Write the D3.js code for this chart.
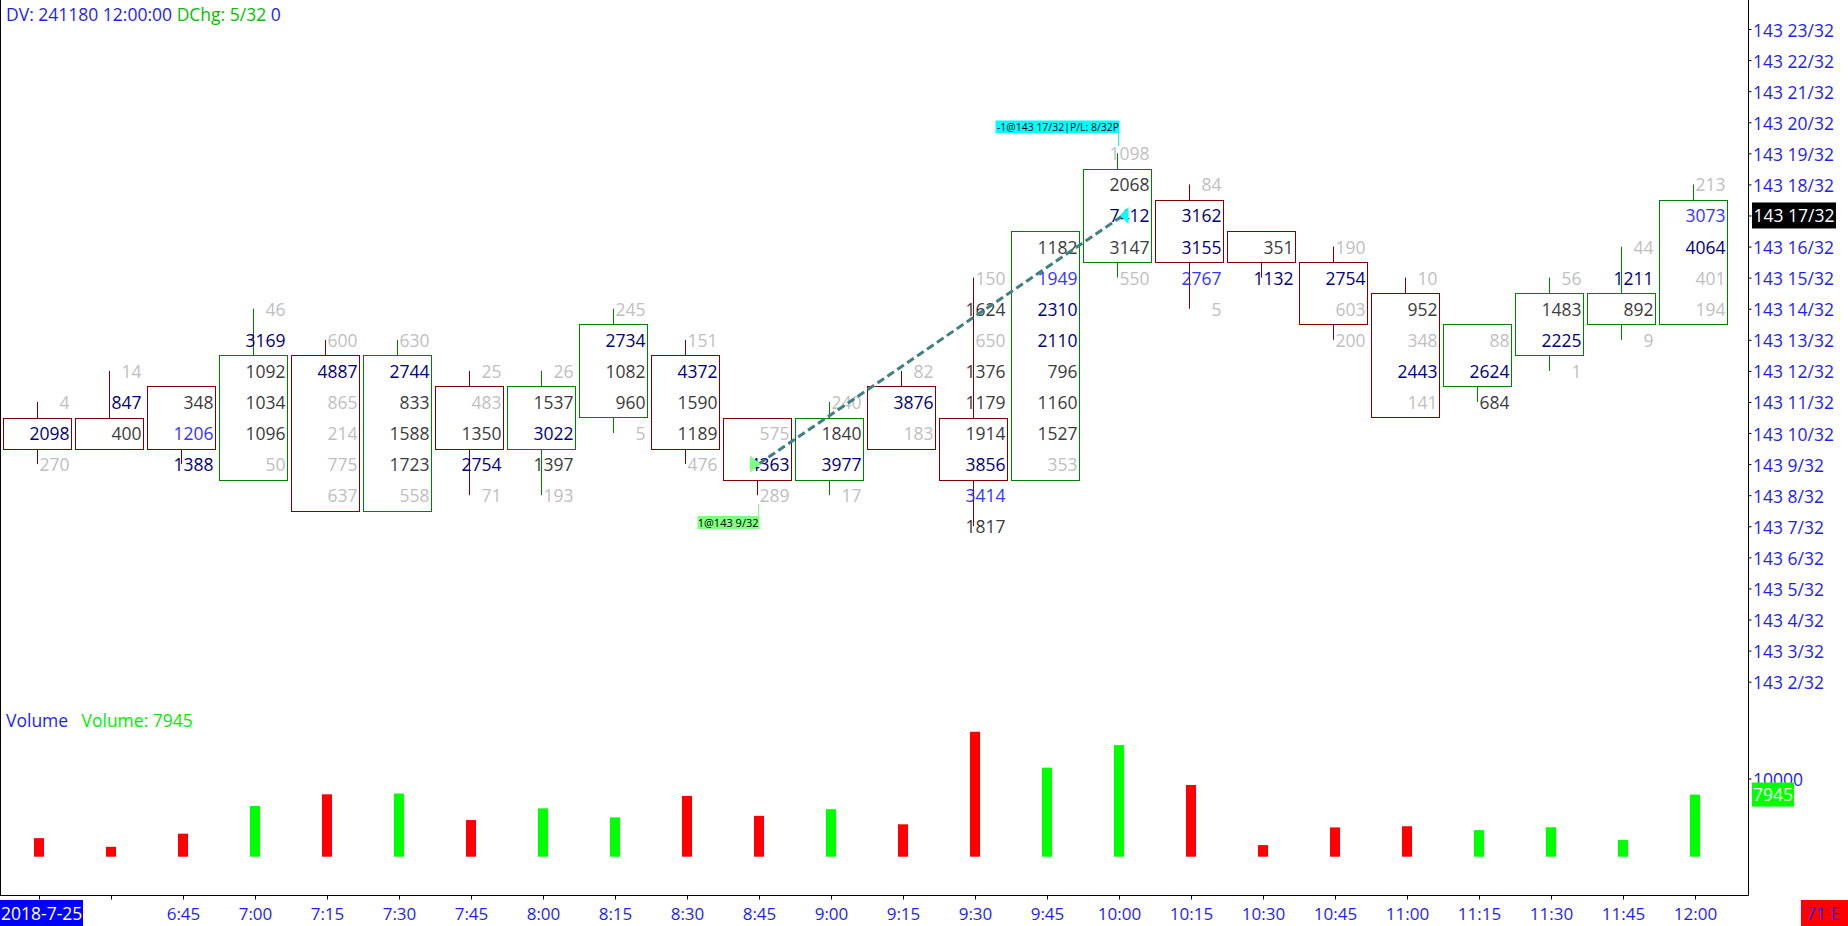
<!DOCTYPE html>
<html><head><meta charset="utf-8">
<script src="https://cdn.jsdelivr.net/npm/d3@7"></script>
<style>
html,body{margin:0;padding:0;background:#fff;overflow:hidden;}
svg{display:block;font-family:"Open Sans","Noto Sans",sans-serif;}
</style></head><body>
<svg id="c" width="1848" height="926"></svg>
<script>
// ---- data (prices in 32nds above 143) ----
const times = ["6:15","6:30","6:45","7:00","7:15","7:30","7:45","8:00","8:15","8:30","8:45","9:00",
               "9:15","9:30","9:45","10:00","10:15","10:30","10:45","11:00","11:15","11:30","11:45","12:00"];
const tickLabels = ["2018-7-25","","6:45","7:00","7:15","7:30","7:45","8:00","8:15","8:30","8:45","9:00",
               "9:15","9:30","9:45","10:00","10:15","10:30","10:45","11:00","11:15","11:30","11:45","12:00"];
const highs       = [11,12,11,14,13,13,12,12,14,13,10,11,12,15,16,19,18,16,16,15,13,15,16,18];
const lows        = [ 9,10, 9, 9, 8, 8, 8, 8,10, 9, 8, 8,10, 7, 9,15,14,15,13,11,11,12,13,14];
const bodyTops    = [10,10,11,12,12,12,11,11,13,12,10,10,11,10,16,18,17,16,15,14,13,14,14,17];
const bodyBottoms = [10,10,10, 9, 8, 8,10,10,11,10, 9, 9,10, 9, 9,16,16,16,14,11,12,13,14,14];
const directions  = ["down","down","down","up","down","up","down","up","up","down","down","up",
                     "down","down","up","up","down","down","down","down","up","up","up","up"];
// cell volumes from high row down to low row
const cellValues = [
  [4,2098,270],
  [14,847,400],
  [348,1206,1388],
  [46,3169,1092,1034,1096,50],
  [600,4887,865,214,775,637],
  [630,2744,833,1588,1723,558],
  [25,483,1350,2754,71],
  [26,1537,3022,1397,193],
  [245,2734,1082,960,5],
  [151,4372,1590,1189,476],
  [575,4363,289],
  [240,1840,3977,17],
  [82,3876,183],
  [150,1624,650,1376,1179,1914,3856,3414,1817],
  [1182,1949,2310,2110,796,1160,1527,353],
  [1098,2068,7412,3147,550],
  [84,3162,3155,2767,5],
  [351,1132],
  [190,2754,603,200],
  [10,952,348,2443,141],
  [88,2624,684],
  [56,1483,2225,1],
  [44,1211,892,9],
  [213,3073,4064,401,194]
];
// shade per cell: g light gray, d dark, n navy, b blue
const cellShades = ["gng","gnd","dbn","gndddg","gngggg","gndddg","ggdng","gdndg","gnddg","gnddg","gng","gdng",
                    "gng","gdgdddnbd","dbnndddg","gdndg","gnnbg","dn","gngg","gdgng","gnd","gdng","gndg","gbngg"];
const volumes = [2372,1261,2942,6487,7978,8076,4683,6175,5026,7778,5227,6074,
                 4141,15980,11387,14275,9173,1483,3747,3894,3396,3765,2156,7945];
const priceTicks = [23,22,21,20,19,18,17,16,15,14,13,12,11,10,9,8,7,6,5,4,3,2];
const volumeTicks = [10000];
const lastPrice = 17, lastVolume = 7945;
const entryTime = "8:45", entryPrice = 9, entryText = "1@143 9/32";
const exitTime = "10:00", exitPrice = 17, exitText = "-1@143 17/32|P/L: 8/32P";

// ---- drawing ----
const svg = d3.select("#c");
const AX = 1748.5, PANE_BOTTOM = 895.5;
const shadeColor = {g:"#c0c0c0", d:"#3c3c3c", n:"#000080", b:"#3535ff"};
const boxColor = {up:"#008000", down:"#800000"};
const volColor = {up:"#00ff00", down:"#ff0000"};
const blue = "#1e1ef0";

const x = d3.scalePoint().domain(times).range([37.5, 37.5 + 23*72]);
const y = d3.scaleLinear().domain([2, 23]).range([29 + 21*31.08, 29]);
const yv = d3.scaleLinear().domain([0, 10000]).range([856.7, 778.5]);

// frame
svg.append("line").attr("x1",0.5).attr("x2",0.5).attr("y1",0).attr("y2",PANE_BOTTOM).attr("stroke","#000");
svg.append("line").attr("x1",AX).attr("x2",AX).attr("y1",0).attr("y2",PANE_BOTTOM).attr("stroke","#000");
svg.append("line").attr("x1",0).attr("x2",AX).attr("y1",PANE_BOTTOM).attr("y2",PANE_BOTTOM).attr("stroke","#000");

// header
const hdr = svg.append("text").attr("x",6).attr("y",20.5).attr("font-size",17.5);
hdr.append("tspan").attr("fill",blue).text("DV: 241180 12:00:00 ");
hdr.append("tspan").attr("fill","#00c000").text("DChg: 5/32");
hdr.append("tspan").attr("fill",blue).text(" 0");

// price axis
const pAxis = d3.axisRight(y).tickValues(priceTicks).tickSize(3).tickPadding(1.5)
  .tickFormat(p => "143 " + p + "/32");
const pg = svg.append("g").attr("transform",`translate(${AX},0)`).call(pAxis);
pg.select(".domain").remove();
pg.selectAll("line").attr("stroke","#000");
pg.selectAll("text").attr("fill",blue).attr("font-size",17.5).attr("font-family","Open Sans")
  .attr("dy",null).attr("y",7);

// current price highlight
const hp = svg.append("g");
hp.append("rect").attr("x",1752).attr("y",y(lastPrice)-13).attr("width",84).attr("height",26).attr("fill","#000");
hp.append("text").attr("x",1753.5).attr("y",y(lastPrice)+7).attr("fill","#fff").attr("font-size",17.5)
  .text("143 " + lastPrice + "/32");

// candles
const cg = svg.append("g");
times.forEach((t,i) => {
  const cx = x(t);
  const col = boxColor[directions[i]];
  const top = Math.round(y(bodyTops[i]) - 15.5) + 0.5;
  const bot = Math.round(y(bodyBottoms[i]) + 15.5) + 0.5;
  if (highs[i] > bodyTops[i])
    cg.append("line").attr("x1",cx).attr("x2",cx).attr("y1",y(highs[i])).attr("y2",top).attr("stroke",col);
  if (lows[i] < bodyBottoms[i])
    cg.append("line").attr("x1",cx).attr("x2",cx).attr("y1",bot).attr("y2",y(lows[i])).attr("stroke",col);
  cg.append("rect").attr("x",cx-34).attr("y",top).attr("width",68).attr("height",bot-top)
    .attr("fill","none").attr("stroke",col);
  cellValues[i].forEach((v,k) => {
    const p = highs[i] - k;
    cg.append("text").attr("x",cx+32).attr("y",y(p)+7).attr("text-anchor","end")
      .attr("font-size",17.5).attr("fill",shadeColor[cellShades[i][k]]).text(v);
  });
});

// trade line
const ex0 = x(entryTime), ex1 = x(exitTime);
svg.append("line").attr("x1",ex0+1).attr("y1",y(entryPrice)).attr("x2",ex1+4).attr("y2",y(exitPrice)+1)
  .attr("stroke","#408080").attr("stroke-width",3).attr("stroke-dasharray","8,4");
svg.append("path").attr("d",`M${ex0-7.5},${y(entryPrice)-8.5}L${ex0-7.5},${y(entryPrice)+8.5}L${ex0+3},${y(entryPrice)}Z`)
  .attr("fill","#80ff80");
svg.append("path").attr("d",`M${ex1+11},${y(exitPrice)-8.5}L${ex1+11},${y(exitPrice)+8.5}L${ex1+2.5},${y(exitPrice)}Z`)
  .attr("fill","#00ffff");
// entry label
svg.append("line").attr("x1",ex0+1).attr("x2",ex0+1).attr("y1",504).attr("y2",516).attr("stroke","#80ff80");
svg.append("rect").attr("x",ex0-60).attr("y",516).attr("width",62).attr("height",13).attr("fill","#80ff80");
svg.append("text").attr("x",ex0+1).attr("y",526.5).attr("text-anchor","end").attr("font-size",11).attr("fill","#000").text(entryText);
// exit label
svg.append("line").attr("x1",ex1+1).attr("x2",ex1+1).attr("y1",132).attr("y2",146).attr("stroke","#00ffff");
svg.append("rect").attr("x",ex1-122).attr("y",120.5).attr("width",124).attr("height",12.5).attr("fill","#00ffff");
svg.append("text").attr("x",ex1+1.5).attr("y",131).attr("text-anchor","end").attr("font-size",11)
  .attr("textLength",122).attr("lengthAdjust","spacingAndGlyphs").attr("fill","#000").text(exitText);

// volume pane
const vl = svg.append("text").attr("x",6).attr("y",727).attr("font-size",17.5);
vl.append("tspan").attr("fill",blue).text("Volume");
vl.append("tspan").attr("x",81.5).attr("fill","#00ee00").text("Volume: " + lastVolume);

svg.append("g").selectAll("rect").data(times).join("rect")
  .attr("x", t => x(t)+1.5-5).attr("width",10)
  .attr("y", (t,i) => yv(volumes[i])).attr("height",(t,i) => yv(0)-yv(volumes[i]))
  .attr("fill",(t,i) => volColor[directions[i]]);

const vAxis = d3.axisRight(yv).tickValues(volumeTicks).tickSize(3).tickPadding(1.5).tickFormat(d3.format("d"));
const vg = svg.append("g").attr("transform",`translate(${AX},0)`).call(vAxis);
vg.select(".domain").remove();
vg.selectAll("line").attr("stroke","#000");
vg.selectAll("text").attr("fill",blue).attr("font-size",17.5).attr("font-family","Open Sans").attr("dy",null).attr("y",7);

svg.append("rect").attr("x",1752).attr("y",yv(lastVolume)-12).attr("width",42).attr("height",24).attr("fill","#00ff00");
svg.append("text").attr("x",1753).attr("y",yv(lastVolume)+6.5).attr("fill","#fff").attr("font-size",17.5).text(lastVolume);

// time axis
const xv = d3.scalePoint().domain(times).range([39, 39 + 23*72]);
const tAxis = d3.axisBottom(xv).tickSize(4).tickPadding(4).tickFormat((t,i) => i === 0 ? "" : tickLabels[i]);
const tg = svg.append("g").attr("transform",`translate(0,${PANE_BOTTOM})`).call(tAxis);
tg.select(".domain").remove();
tg.selectAll("line").attr("stroke","#000");
tg.selectAll("text").attr("fill",blue).attr("font-size",17).attr("font-family","Open Sans")
  .attr("dy",null).attr("y",24);

// date box
svg.append("rect").attr("x",0).attr("y",900).attr("width",83).attr("height",26).attr("fill","#0000ff");
svg.append("text").attr("x",1).attr("y",919.5).attr("fill","#fff").attr("font-size",17.5).text(tickLabels[0]);

// bottom-right box
svg.append("rect").attr("x",1801).attr("y",900).attr("width",47).attr("height",26).attr("fill","#ff0000");
svg.append("text").attr("x",1806).attr("y",919.5).attr("fill",blue).attr("font-size",17.5).text("71 E");
</script>
</body></html>
